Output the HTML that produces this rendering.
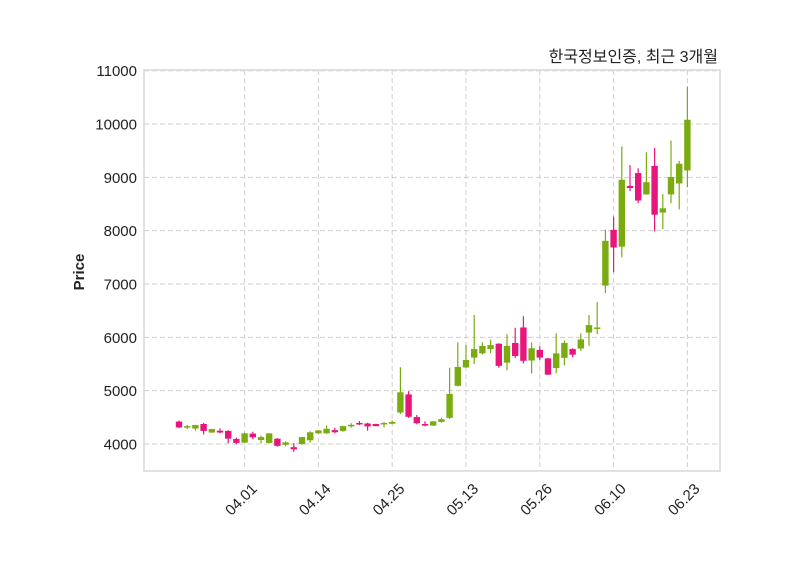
<!DOCTYPE html>
<html><head><meta charset="utf-8"><style>
body{margin:0;background:#fff;}
svg text{font-family:"Liberation Sans","Noto Sans CJK KR",sans-serif;}
</style></head><body>
<svg id="chart" width="800" height="575" xmlns="http://www.w3.org/2000/svg">
<rect x="0" y="0" width="800" height="575" fill="#fff"/>
<text x="718" y="62" text-anchor="end" font-size="16" fill="#222">한국정보인증, 최근 3개월</text>
<text x="0" y="0" transform="translate(84,272) rotate(-90)" text-anchor="middle" font-size="15" font-weight="bold" fill="#222">Price</text>
<g id="grid"></g>
<g id="candles"></g>
<g id="axes"></g>
<rect x="144" y="70" width="576" height="401" fill="none" stroke="#d8d8d8" stroke-width="1.5"/>
</svg>
<script>
const opens  = [4420,4320,4290,4375,4215,4250,4245,4095,4025,4195,4075,4020,4100,3985,3940,4000,4070,4200,4200,4260,4245,4330,4395,4385,4375,4375,4380,4590,4930,4505,4375,4345,4415,4490,5090,5435,5620,5700,5780,5880,5525,5895,6185,5565,5765,5605,5425,5615,5780,5790,6090,6165,6970,8015,7700,8840,9080,8680,9215,8340,8680,8885,9130];
const closes = [4310,4335,4355,4245,4280,4215,4100,4020,4200,4125,4130,4200,3965,4030,3900,4130,4220,4255,4285,4220,4335,4360,4375,4330,4335,4395,4415,4970,4510,4390,4345,4425,4465,4940,5445,5575,5780,5840,5855,5465,5840,5650,5560,5795,5620,5300,5700,5895,5675,5960,6230,6185,7810,7685,8955,8800,8565,8910,8300,8420,9005,9255,10080];
const highs  = [4440,4360,4360,4394,4285,4294,4260,4120,4210,4230,4160,4200,4110,4050,4020,4135,4240,4260,4350,4305,4340,4390,4430,4400,4380,4410,4440,5440,4990,4545,4425,4430,4490,5430,5905,5860,6420,5905,5960,5890,6060,6180,6395,5905,5830,5615,6075,5940,5795,6075,6420,6660,8020,8265,9580,9230,9170,9470,9550,8685,9690,9310,10700];
const lows   = [4300,4280,4250,4180,4210,4200,4015,3995,4020,4090,4013,4010,3950,3960,3850,3980,4025,4190,4190,4200,4230,4310,4355,4250,4330,4310,4370,4560,4490,4370,4330,4340,4400,4470,5080,5430,5500,5680,5700,5430,5380,5610,5510,5320,5575,5295,5325,5470,5630,5745,5840,6060,6830,7220,7500,8745,8515,8675,7985,8030,8515,8400,8815];
const tickIdx = [8,17,26,35,44,53,62];
const tickLabels = ["04.01","04.14","04.25","05.13","05.26","06.10","06.23"];
const yTicks = [4000,5000,6000,7000,8000,9000,10000,11000];

const NS="http://www.w3.org/2000/svg";
const X0=179, STEP=8.2;
function xs(i){return X0+STEP*i;}
function ys(v){return 444-(v-4000)*0.05333;}
function mk(tag,attrs,parent){const e=document.createElementNS(NS,tag);for(const k in attrs)e.setAttribute(k,attrs[k]);parent.appendChild(e);return e;}
const grid=document.getElementById('grid'),cg=document.getElementById('candles'),ax=document.getElementById('axes');
yTicks.forEach(v=>{
  const l=mk('line',{x1:144,x2:720,y1:ys(v),y2:ys(v),stroke:'#cfcfcf','stroke-dasharray':'5,3','stroke-width':1},grid);
  
  
  const t=mk('text',{x:137,y:ys(v)+5.5,'text-anchor':'end','font-size':15,fill:'#222'},ax);
  t.textContent=v;
  
  
});
tickIdx.forEach((i,k)=>{
  const x=xs(i);
  const l=mk('line',{x1:x,x2:x,y1:70,y2:471,stroke:'#cfcfcf','stroke-dasharray':'5,3','stroke-width':1},grid);
  
  
  const t=mk('text',{x:0,y:0,transform:`translate(${x},${503}) rotate(-45)`,'text-anchor':'middle','font-size':15,fill:'#222'},ax);
  t.textContent=tickLabels[k];
  
  
});
opens.forEach((o,i)=>{
  const c=closes[i],up=c>=o,col=up?'#7aac12':'#e8157c',x=xs(i);
  const g=mk('g',{},cg);
  
  
  mk('line',{x1:x,x2:x,y1:ys(highs[i]),y2:ys(lows[i]),stroke:col,'stroke-width':1.2},g);
  const top=ys(Math.max(o,c)),h=Math.max(1.5,Math.abs(ys(o)-ys(c)));
  mk('rect',{x:x-3.2,y:top,width:6.4,height:h,fill:col},g);
});
</script>
</body></html>
